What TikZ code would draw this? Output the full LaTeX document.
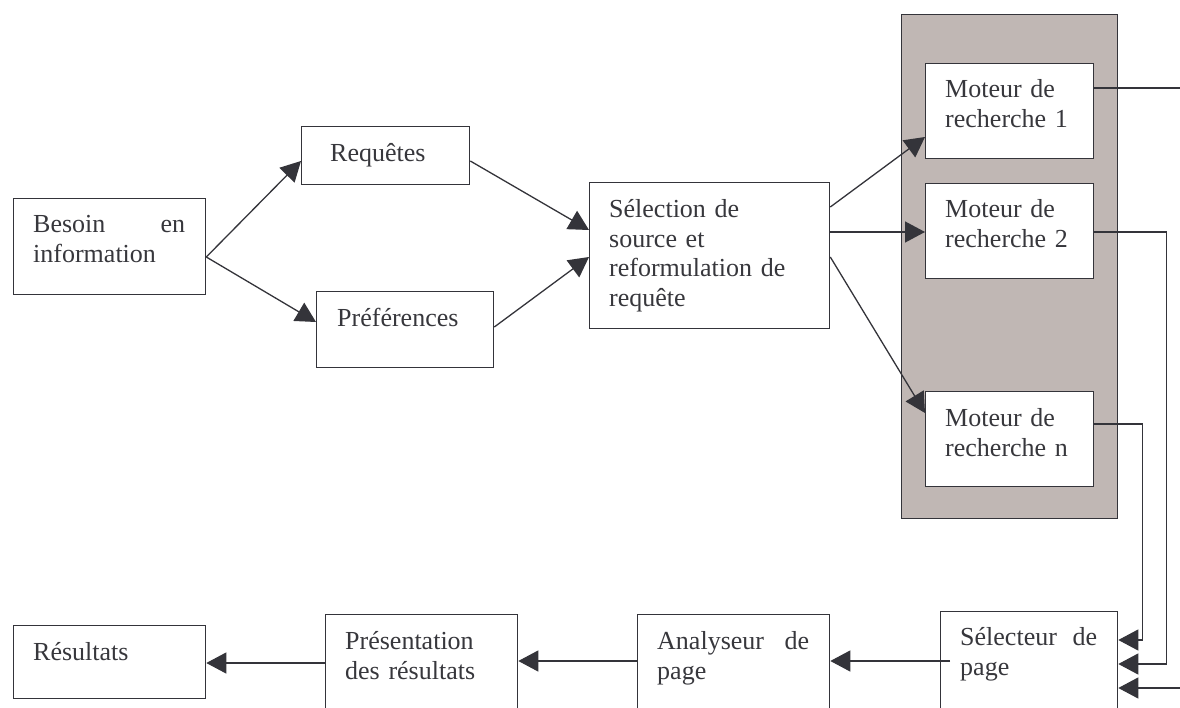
\documentclass[tikz,border=0pt]{standalone}
\usepackage{fontspec}
\setmainfont{Liberation Serif}
\usetikzlibrary{arrows.meta,calc}
\definecolor{lc}{RGB}{52,52,58}
\definecolor{tc}{RGB}{55,55,60}
\definecolor{panelfill}{RGB}{192,183,180}
\tikzset{
  boxe/.style={draw=lc, line width=1.3pt, fill=white, rectangle, inner sep=0pt, anchor=north west},
  lbl/.style={anchor=north west, inner sep=0pt, align=left, text=tc, font=\fontsize{26}{29.5}\selectfont},
  conn/.style={draw=lc, line width=1.3pt},
  arr/.style={conn, -{Triangle[length=20pt,width=21pt]}}
}
\begin{document}
\begin{tikzpicture}[x=1pt,y=-1pt]
\useasboundingbox (0,0) rectangle (1180,708);
% panel
\node[boxe, fill=panelfill, minimum width=216pt, minimum height=504pt] (panel) at (901,14) {};
% boxes
\node[boxe, minimum width=192pt, minimum height=96pt] (besoin) at (13,198) {};
\node[boxe, minimum width=168pt, minimum height=58pt] (req) at (301,126) {};
\node[boxe, minimum width=177pt, minimum height=76pt] (pref) at (316,291) {};
\node[boxe, minimum width=240pt, minimum height=146pt] (sel) at (589,182) {};
\node[boxe, minimum width=168pt, minimum height=95pt] (m1) at (925,63) {};
\node[boxe, minimum width=168pt, minimum height=95pt] (m2) at (925,183) {};
\node[boxe, minimum width=168pt, minimum height=95pt] (mn) at (925,391) {};
\node[boxe, minimum width=192pt, minimum height=73pt] (res) at (13,625) {};
\node[boxe, minimum width=192pt, minimum height=110pt] (pres) at (325,614) {};
\node[boxe, minimum width=192pt, minimum height=110pt] (ana) at (637,614) {};
\node[boxe, minimum width=177pt, minimum height=110pt] (selp) at (940,611) {};
% labels
\node[lbl, text width=152pt] (besoin-t) at (33,212) {\strut Besoin\hfill en\\information};
\node[lbl, text width=130pt] (req-t) at (330,141) {\strut Requêtes};
\node[lbl, text width=137pt] (pref-t) at (337,306) {\strut Préférences};
\node[lbl, text width=200pt] (sel-t) at (609,197) {\strut Sélection de\\source et\\reformulation de\\requête};
\node[lbl, text width=128pt] (m1-t) at (945,77) {\strut Moteur de\\recherche 1};
\node[lbl, text width=128pt] (m2-t) at (945,197) {\strut Moteur de\\recherche 2};
\node[lbl, text width=128pt] (mn-t) at (945,406) {\strut Moteur de\\recherche n};
\node[lbl, text width=152pt] (res-t) at (33,640) {\strut Résultats};
\node[lbl, text width=152pt] (pres-t) at (345,629) {\strut Présentation\\des résultats};
\node[lbl, text width=152pt] (ana-t) at (657,629) {\strut Analyseur\hfill de\\page};
\node[lbl, text width=137pt] (selp-t) at (960,625) {\strut Sélecteur\hfill de\\page};
% free ends
\coordinate (m1out) at (1180,88);
\coordinate (in3) at (1180,688);
% connectors
\draw[arr] ($(besoin.north east)+(0,59)$) -- ($(req.north west)+(0,35)$);
\draw[arr] ($(besoin.north east)+(0,59)$) -- ($(pref.north west)+(0,31)$);
\draw[arr] ($(req.north east)+(0,35)$) -- ($(sel.north west)+(0,48)$);
\draw[arr] ($(pref.north east)+(0,36)$) -- ($(sel.north west)+(0,75)$);
\draw[arr] ($(sel.north east)+(0,25)$) -- ($(m1.north west)+(0,74)$);
\draw[arr] ($(sel.north east)+(0,50)$) -- ($(m2.north west)+(0,49)$);
\draw[arr] ($(sel.north east)+(0,75)$) -- ($(mn.north west)+(0,22)$);
\draw[conn] ($(m1.north east)+(0,25)$) -- (m1out);
\draw[arr] ($(m2.north east)+(0,49)$) -- ++(72,0) |- ($(selp.north east)+(0,53)$);
\draw[arr] ($(mn.north east)+(0,33)$) -- ++(48,0) |- ($(selp.north east)+(0,29)$);
\draw[arr] (in3) -- ($(selp.north east)+(0,77)$);
\draw[arr] ($(selp.north west)+(10,50)$) -- ($(ana.north east)+(0,47)$);
\draw[arr] ($(ana.north west)+(0,47)$) -- ($(pres.north east)+(0,47)$);
\draw[arr] ($(pres.north west)+(0,49)$) -- ($(res.north east)+(0,38)$);
\end{tikzpicture}
\end{document}
